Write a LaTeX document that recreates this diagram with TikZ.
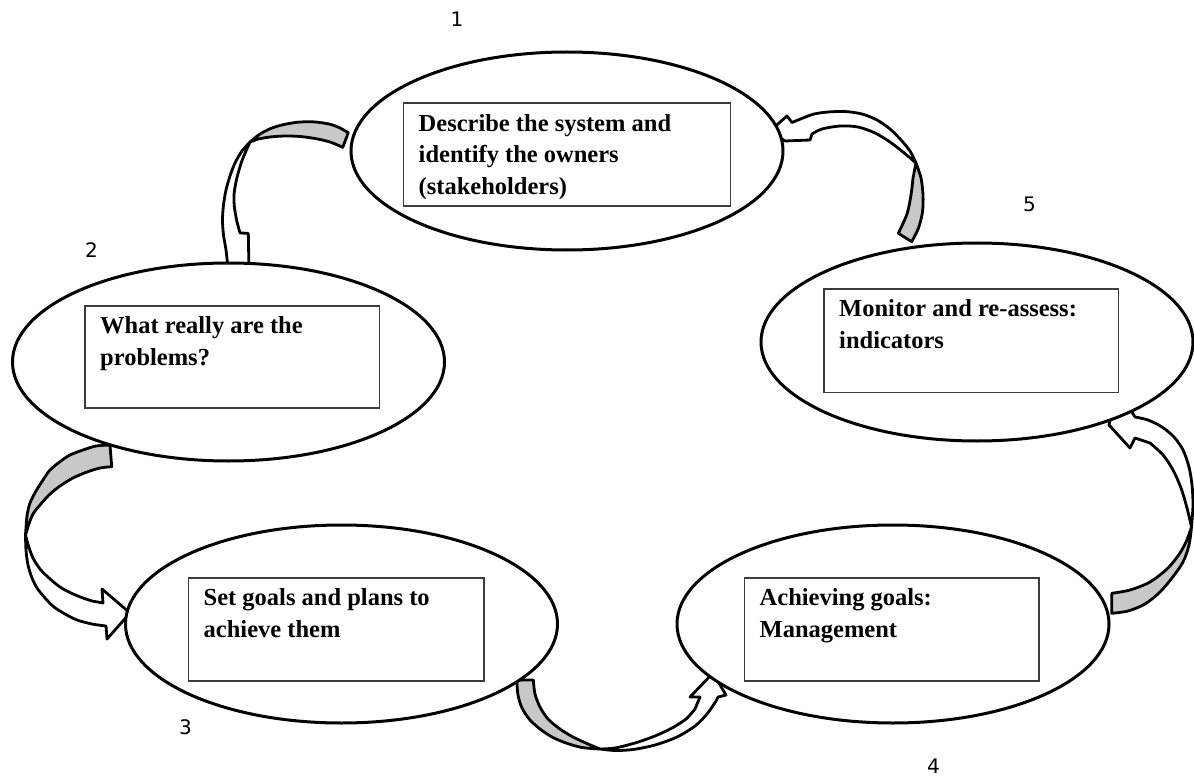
\documentclass[tikz,border=0pt]{standalone}
\usepackage{fontspec}
\setmainfont{Liberation Serif}
\newfontfamily\numfont{DejaVu Sans}
\usetikzlibrary{shapes.geometric}
\definecolor{backgray}{RGB}{200,200,200}
\definecolor{boxline}{RGB}{60,60,60}
\begin{document}
\begin{tikzpicture}[x=1pt,y=-1pt,
  stage/.style={ellipse, draw=black, line width=3pt, fill=white,
    minimum width=432pt, minimum height=198pt, inner sep=0pt},
  textbox/.style={rectangle, draw=boxline, line width=1.8pt, fill=white,
    anchor=north west, inner sep=0pt},
  boxtext/.style={anchor=north west, inner sep=0pt, align=left,
    font=\fontsize{24.5}{31.5}\selectfont\bfseries},
  stagenum/.style={font=\numfont\fontsize{20}{20}\selectfont, inner sep=0pt},
  fronthalf/.style={draw=black, line width=2.8pt, fill=white, line join=round},
  backhalf/.style={draw=black, line width=2.8pt, fill=backgray, line join=round},
]
\useasboundingbox (0,0) rectangle (1194,778);

% ---- curved block arrows (drawn first, stages cover their tips) ----
% 1 -> 2
\draw[fronthalf] plot[smooth] coordinates {(250,142) (242,151) (235,163) (230,176) (226,190) (223.5,205) (222.5,220) (223.5,235) (226,250) (228,268)}
  -- (236,283) -- (249,270) -- (248.3,233.3) -- (240,233)
  -- plot[smooth] coordinates {(237,222) (234.5,208) (234,195) (236,182) (239,170) (243,158) (250,142)} -- cycle;
\draw[backhalf] plot[smooth] coordinates {(348.3,132.7) (340,128) (331,124.5) (320,122.5) (310,121.7) (297,122.3) (284,124.5) (272,128) (260,134) (250,142)}
  -- plot[smooth] coordinates {(258,139) (270,137) (285,136) (300,136.5) (315,138.5) (330,142) (342.7,147.3)} -- cycle;

% 2 -> 3
\draw[fronthalf] plot[smooth] coordinates {(25.5,535) (26,550) (28,565) (32,578) (37,588) (45,598) (54,607) (65,614) (77,620) (92,624) (106,626)}
  -- (107,639) -- (130,613) -- (102,589) -- (103,603)
  -- plot[smooth] coordinates {(92,601) (83,598) (71,593) (60,587) (49,578) (40,569) (33,558) (28.5,546) (25.5,535)} -- cycle;
\draw[backhalf] plot[smooth] coordinates {(110,445) (96,446) (83,450) (70,455) (60,461.7) (50,470) (43,480) (36,491) (30,503) (27,516) (25.5,535)}
  -- plot[smooth] coordinates {(28.5,525) (33,514) (40,505) (49,495) (60,486) (73,478) (87,472) (100,468) (111.7,466.7)} -- cycle;

% 3 -> 4
\draw[fronthalf] plot[smooth] coordinates {(600,749) (615,750.5) (633,749.5) (655,745) (677,737) (695,726) (707,714) (716,701) (718,697)}
  -- (726,695) -- (713,673) -- (690,697) -- (700,697)
  -- plot[smooth] coordinates {(695,709) (686,719) (672,728) (655,736) (635,743) (615,748) (600,749)} -- cycle;
\draw[backhalf] plot[smooth] coordinates {(516.7,680) (518,695) (522,708) (530,720) (540,729) (552,737) (566,743) (582,747.5) (600,749)}
  -- plot[smooth] coordinates {(588,744) (573,737) (560,729) (548,719) (540,707) (535,694) (533.3,680)} -- cycle;

% 4 -> 5
\draw[fronthalf] plot[smooth] coordinates {(1191.5,527) (1193,505) (1192,485) (1189,467) (1183,450) (1174,437) (1162,427) (1148,420) (1135,417)}
  -- (1130,409) -- (1113,407) -- (1109,425) -- (1130,448) -- (1135,438)
  -- plot[smooth] coordinates {(1150,443) (1163,455) (1173,470) (1181,488) (1187,508) (1191.5,527)} -- cycle;
\draw[backhalf] plot[smooth] coordinates {(1111.7,613.3) (1128,611) (1145,604) (1160,592) (1172,578) (1183,562) (1189,545) (1191.5,527)}
  -- plot[smooth] coordinates {(1187,540) (1180,553) (1168,568) (1150,582) (1130,590) (1111.7,593.3)} -- cycle;

% 5 -> 1
\draw[fronthalf] plot[smooth] coordinates {(916,163) (910,151) (901,140) (890,129) (877,120) (862,114) (845,111.5) (828,112) (814,114) (803,118) (792,122.5)}
  -- (787,116) -- (770,131) -- (785,141) -- (810,140)
  -- plot[smooth] coordinates {(812,134) (822,129) (840,126) (858,127) (875,133) (890,142) (903,152) (916,163)} -- cycle;
\draw[backhalf] plot[smooth] coordinates {(911.7,241.7) (918.5,228) (922.5,212) (923,195) (921,178) (916,163)}
  -- plot[smooth] coordinates {(913,178) (911,195) (907,214) (898.3,233.3)} -- cycle;

% ---- stages ----
\node[stage] (s1) at (567,151) {};
\node[stage] (s2) at (228.5,362) {};
\node[stage] (s3) at (341.5,624) {};
\node[stage] (s4) at (893,624) {};
\node[stage] (s5) at (977,342) {};

% ---- text boxes ----
\node[textbox, minimum width=327pt, minimum height=102.5pt] (b1) at (402.5,102.5) {};
\node[textbox, minimum width=294.5pt, minimum height=102pt] (b2) at (84,305) {};
\node[textbox, minimum width=295.5pt, minimum height=103pt] (b3) at (187.5,577) {};
\node[textbox, minimum width=294.5pt, minimum height=103pt] (b4) at (743.5,577) {};
\node[textbox, minimum width=294.5pt, minimum height=103.5pt] (b5) at (823,288) {};

\node[boxtext] (t1) at ([shift={(16,6.6)}]b1.north west) {\strut Describe the system and\\identify the owners\\(stakeholders)};
\node[boxtext] (t2) at ([shift={(16,6.6)}]b2.north west) {\strut What really are the\\problems?};
\node[boxtext] (t3) at ([shift={(16,6.6)}]b3.north west) {\strut Set goals and plans to\\achieve them};
\node[boxtext] (t4) at ([shift={(16,6.6)}]b4.north west) {\strut Achieving goals:\\Management};
\node[boxtext] (t5) at ([shift={(16,6.6)}]b5.north west) {\strut Monitor and re-assess:\\indicators};

% ---- stage numbers ----
\node[stagenum] (n1) at (457,19) {1};
\node[stagenum] (n2) at (91.5,250.5) {2};
\node[stagenum] (n3) at (185.5,727.5) {3};
\node[stagenum] (n4) at (933.5,766.5) {4};
\node[stagenum] (n5) at (1029.5,204.5) {5};
\end{tikzpicture}
\end{document}
